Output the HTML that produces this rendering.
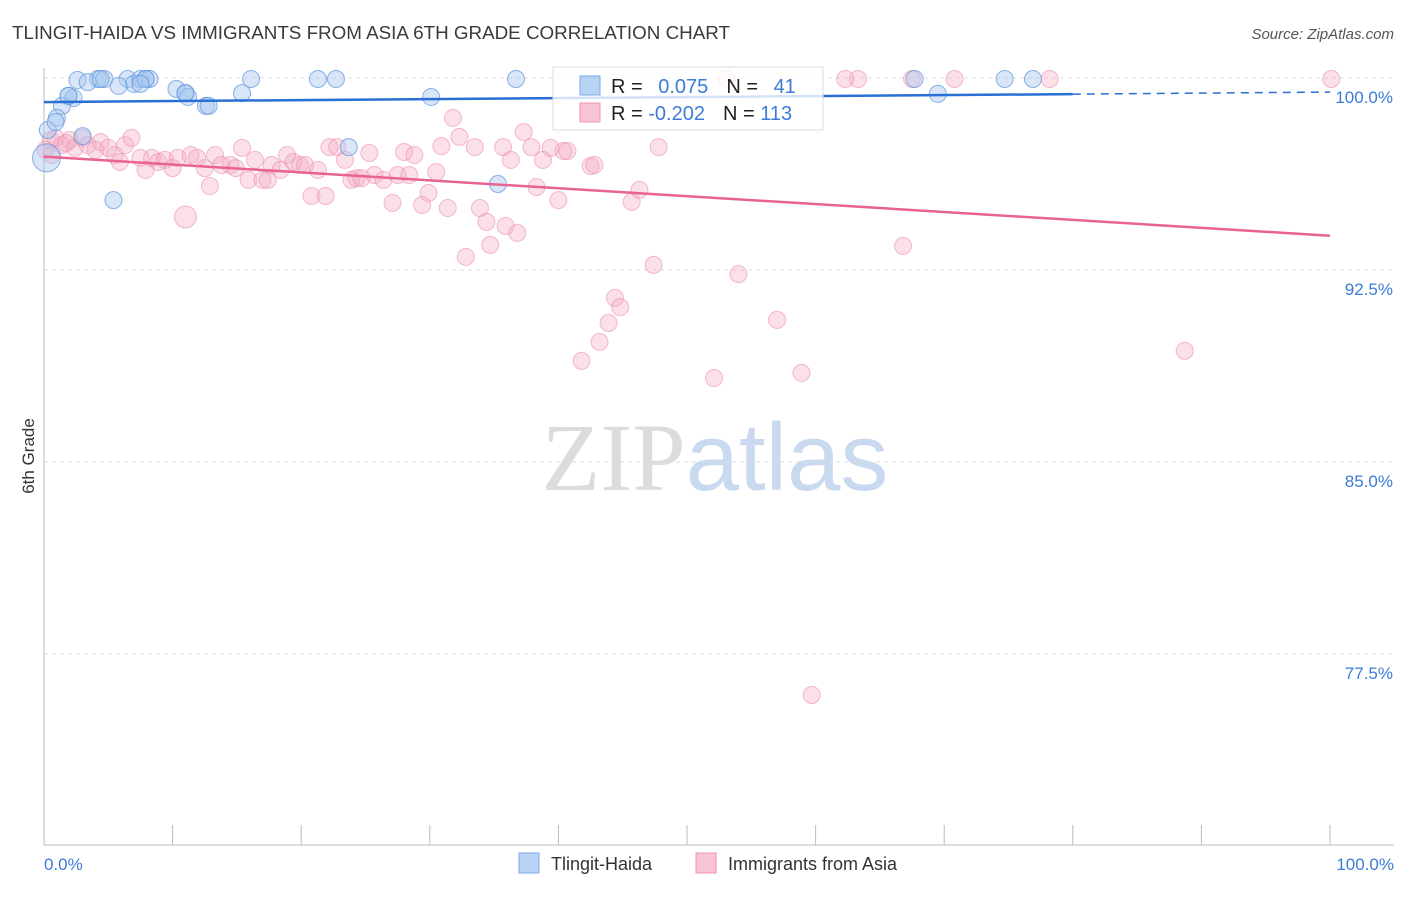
<!DOCTYPE html>
<html><head><meta charset="utf-8"><style>
body{margin:0;background:#fff;font-family:"Liberation Sans",sans-serif}
text{font-family:"Liberation Sans",sans-serif}
</style></head><body>
<svg id="chart" width="1406" height="892" viewBox="0 0 1406 892" xmlns="http://www.w3.org/2000/svg">
<text x="12" y="39" font-size="18" fill="#3a3a3a" textLength="718" lengthAdjust="spacingAndGlyphs">TLINGIT-HAIDA VS IMMIGRANTS FROM ASIA 6TH GRADE CORRELATION CHART</text>
<text x="1394" y="39" font-size="15" fill="#555" text-anchor="end" font-style="italic">Source: ZipAtlas.com</text>
<text x="715" y="490" font-size="96" text-anchor="middle"><tspan fill="#dcdcdc" font-family="Liberation Serif">ZIP</tspan><tspan fill="#c9daf0">atlas</tspan></text>
<g id="grid"></g>
<line x1="44" y1="845" x2="1394" y2="845" stroke="#bbb"/>
<line x1="44" y1="68" x2="44" y2="845" stroke="#bbb"/>
<text transform="translate(34,456) rotate(-90)" font-size="17" fill="#333" text-anchor="middle">6th Grade</text>
<text x="44" y="870" font-size="17" fill="#3d7bd9">0.0%</text>
<text x="1394" y="870" font-size="17" fill="#3d7bd9" text-anchor="end">100.0%</text>
<g id="pts"></g>
<g id="lines"></g>
<g>
<rect x="553" y="67" width="270" height="63" fill="#fff" fill-opacity="0.8" stroke="#ddd"/>
<rect x="580" y="76" width="20" height="19" fill="#b9d3f5" stroke="#7aaae8"/>
<rect x="580" y="103" width="20" height="19" fill="#f9c5d5" stroke="#ee97b2"/>
<text x="611" y="93" font-size="20" fill="#222">R = <tspan fill="#3d7bd9" dx="10">0.075</tspan><tspan dx="18" fill="#222">N = </tspan><tspan fill="#3d7bd9" dx="10">41</tspan></text>
<text x="611" y="120" font-size="20" fill="#222">R = <tspan fill="#3d7bd9">-0.202</tspan><tspan dx="18" fill="#222">N = </tspan><tspan fill="#3d7bd9">113</tspan></text>
</g>
<g>
<rect x="519" y="853" width="20" height="20" fill="#b9d3f5" stroke="#7aaae8"/>
<text x="551" y="870" font-size="18" fill="#333">Tlingit-Haida</text>
<rect x="696" y="853" width="20" height="20" fill="#f9c5d5" stroke="#ee97b2"/>
<text x="728" y="870" font-size="18" fill="#333">Immigrants from Asia</text>
</g>
</svg>
<script>
const yTicks=[100,92.5,85,77.5];
const yTickLabels=["100.0%","92.5%","85.0%","77.5%"];
const xTicks=[0,10,20,30,40,50,60,70,80,90,100];
const bluePx=[[77,80],[98,79],[104,79],[127,79],[134,84],[140,79],[146,79],[150,79],[118,86],[88,82],[69,96],[73,98],[62,106],[57,118],[48,130],[176,89],[185,93],[188,97],[206,106],[208,106],[242,93],[251,79],[318,79],[336,79],[431,97],[516,79],[498,184],[349,147],[113,200],[83,136],[914,79],[938,94],[1005,79],[1033,79],[46,158],[55,122],[186,93],[100,79],[145,79],[68,96],[140,84]];
const pinkPx=[[50,140],[56,138],[62,145],[70,140],[75,148],[82,138],[88,145],[95,150],[100,142],[108,148],[115,155],[120,162],[125,145],[132,138],[140,158],[146,170],[152,158],[158,162],[165,160],[172,168],[178,158],[186,217],[190,155],[197,158],[205,168],[210,186],[215,155],[222,165],[230,165],[236,168],[242,148],[248,180],[255,160],[262,180],[268,180],[272,165],[280,170],[287,155],[293,162],[300,165],[305,165],[312,196],[318,170],[326,196],[330,147],[337,147],[345,160],[351,180],[357,178],[362,178],[369,153],[374,175],[384,180],[392,203],[398,175],[404,152],[409,175],[414,155],[422,205],[428,193],[436,172],[441,146],[448,208],[453,118],[459,137],[466,257],[475,147],[480,208],[486,222],[490,245],[503,147],[506,226],[511,160],[517,233],[524,132],[531,147],[537,187],[543,160],[551,148],[558,200],[564,151],[568,151],[582,361],[591,166],[595,165],[600,342],[609,323],[615,298],[620,307],[632,202],[640,190],[653,265],[659,147],[714,378],[727,79],[738,274],[777,320],[802,373],[812,695],[845,79],[858,79],[903,246],[912,79],[955,79],[1050,79],[1185,351],[1331,79],[45,150],[52,155],[66,143]];
const blueX=bluePx.map(p=>+((p[0]-44)/12.86).toFixed(1));
const blueY=bluePx.map(p=>+(100-(p[1]-78)/25.6).toFixed(2));
const pinkX=pinkPx.map(p=>+((p[0]-44)/12.86).toFixed(1));
const pinkY=pinkPx.map(p=>+(100-(p[1]-78)/25.6).toFixed(2));
const blueTrend=[[0,99.06],[80,99.37],[100,99.45]];
const pinkTrend=[[0,96.93],[100,93.84]];
const X=v=>44+v*12.86, Y=v=>78+(100-v)*25.6;
const NS="http://www.w3.org/2000/svg";
function mk(t,a,p){const e=document.createElementNS(NS,t);for(const k in a)e.setAttribute(k,a[k]);p.appendChild(e);return e;}
const grid=document.getElementById('grid');
yTicks.forEach((v,i)=>{
 const l=mk('line',{x1:44,x2:1394,y1:Y(v),y2:Y(v),stroke:'#ddd','stroke-dasharray':'4,4'},grid);
 
 
 const t=mk('text',{x:1393,y:Y(v)+25,'font-size':17,fill:'#3d7bd9','text-anchor':'end'},grid);
 t.textContent=yTickLabels[i];
 
 
});
xTicks.forEach(v=>{
 const l=mk('line',{x1:X(v),x2:X(v),y1:825,y2:845,stroke:'#bbb'},grid);
 
 
});
const pts=document.getElementById('pts');
pinkX.forEach((x,i)=>{
 const big=(i===21)?11:(i===110?12:8.5);
 const c=mk('circle',{cx:X(x),cy:Y(pinkY[i]),r:big,fill:'#f4a6bf','fill-opacity':0.35,stroke:'#ec8fae','stroke-opacity':0.6},pts);
 
 
});
blueX.forEach((x,i)=>{
 const c=mk('circle',{cx:X(x),cy:Y(blueY[i]),r:i===34?14:8.5,fill:'#a9c8f0','fill-opacity':0.45,stroke:'#5b93dc','stroke-opacity':0.7},pts);
 
 
});
const ln=document.getElementById('lines');
let b=mk('line',{x1:X(blueTrend[0][0]),y1:Y(blueTrend[0][1]),x2:X(blueTrend[1][0]),y2:Y(blueTrend[1][1]),stroke:'#2a6fd6','stroke-width':2.5},ln);


let bd=mk('line',{x1:X(blueTrend[1][0]),y1:Y(blueTrend[1][1]),x2:X(blueTrend[2][0]),y2:Y(blueTrend[2][1]),stroke:'#2a6fd6','stroke-width':1.5,'stroke-dasharray':'8,6'},ln);


let p=mk('line',{x1:X(pinkTrend[0][0]),y1:Y(pinkTrend[0][1]),x2:X(pinkTrend[1][0]),y2:Y(pinkTrend[1][1]),stroke:'#e8638f','stroke-width':2.5},ln);


</script>
</body></html>
